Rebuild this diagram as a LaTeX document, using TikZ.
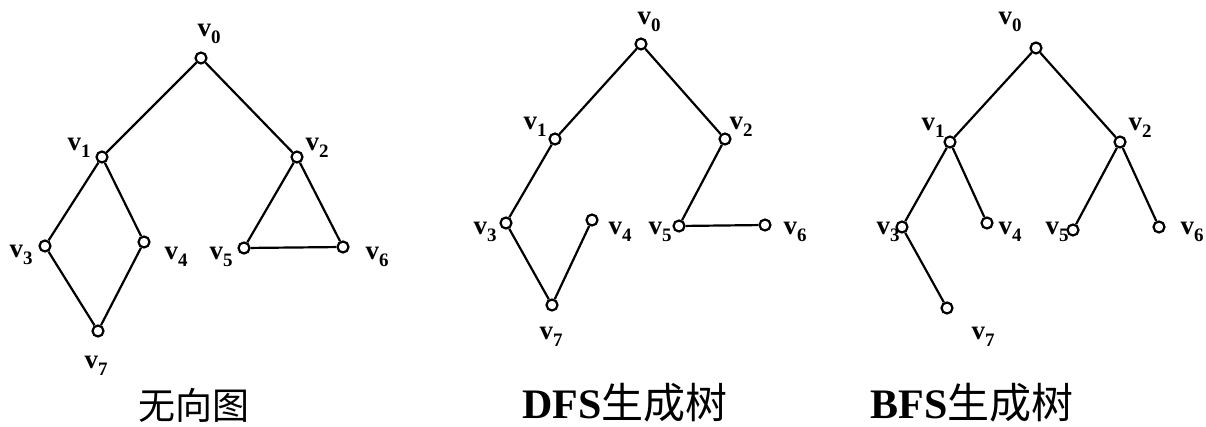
\documentclass[tikz,border=0pt]{standalone}
\usepackage{fontspec}
\setmainfont{Liberation Serif}
\newfontfamily\cjk{Noto Sans CJK SC}
\usetikzlibrary{positioning}
\newcommand{\vname}[1]{v\raisebox{-7pt}{\fontsize{19}{19}\selectfont #1}}

\begin{document}
\begin{tikzpicture}[
    x=1pt, y=-1pt,
    vtx/.style={draw=black, circle, line width=2.2pt, inner sep=0pt, minimum size=11pt, fill=white},
    lbl/.style={font=\fontsize{27}{27}\selectfont\bfseries, inner sep=0pt},
    captext/.style={font=\fontsize{42}{42}\selectfont, anchor=base, inner sep=0pt},
    edge/.style={line width=2.2pt, draw=black}
]
\useasboundingbox (0,0) rectangle (1206,427);

% undirected graph
\node[vtx] (a0) at (201,58) {};
\node[vtx] (a1) at (102,157) {};
\node[vtx] (a2) at (297,157) {};
\node[vtx] (a3) at (45,246) {};
\node[vtx] (a4) at (144,242) {};
\node[vtx] (a5) at (244,248) {};
\node[vtx] (a6) at (343,247) {};
\node[vtx] (a7) at (98,331) {};
\node[lbl] (la0) at (209,34) {\vname{0}};
\node[lbl] (la1) at (79,148) {\vname{1}};
\node[lbl] (la2) at (317,148) {\vname{2}};
\node[lbl] (la3) at (21,255) {\vname{3}};
\node[lbl] (la4) at (176,257) {\vname{4}};
\node[lbl] (la5) at (221,257) {\vname{5}};
\node[lbl] (la6) at (377,257) {\vname{6}};
\node[lbl] (la7) at (96,366) {\vname{7}};
\draw[edge] (a0) -- (a1);
\draw[edge] (a0) -- (a2);
\draw[edge] (a1) -- (a3);
\draw[edge] (a1) -- (a4);
\draw[edge] (a3) -- (a7);
\draw[edge] (a4) -- (a7);
\draw[edge] (a2) -- (a5);
\draw[edge] (a2) -- (a6);
\draw[edge] (a5) -- (a6);
\node[captext, font=\fontsize{37}{37}\selectfont] (capa) at (194,419) {{\cjk 无向图}};

% DFS tree
\node[vtx] (d0) at (641,44) {};
\node[vtx] (d1) at (555,139) {};
\node[vtx] (d2) at (725,139) {};
\node[vtx] (d3) at (506,223) {};
\node[vtx] (d4) at (592,220) {};
\node[vtx] (d5) at (679,226) {};
\node[vtx] (d6) at (765,225) {};
\node[vtx] (d7) at (552,305) {};
\node[lbl] (ld0) at (649,22) {\vname{0}};
\node[lbl] (ld1) at (535,127) {\vname{1}};
\node[lbl] (ld2) at (741,127) {\vname{2}};
\node[lbl] (ld3) at (485,232) {\vname{3}};
\node[lbl] (ld4) at (620,232) {\vname{4}};
\node[lbl] (ld5) at (660,232) {\vname{5}};
\node[lbl] (ld6) at (795,232) {\vname{6}};
\node[lbl] (ld7) at (551,337) {\vname{7}};
\draw[edge] (d0) -- (d1);
\draw[edge] (d1) -- (d3);
\draw[edge] (d3) -- (d7);
\draw[edge] (d7) -- (d4);
\draw[edge] (d0) -- (d2);
\draw[edge] (d2) -- (d5);
\draw[edge] (d5) -- (d6);
\node[captext] (capd) at (625,418) {\textbf{DFS}{\cjk 生成树}};

% BFS tree
\node[vtx] (b0) at (1036,48) {};
\node[vtx] (b1) at (950,142) {};
\node[vtx] (b2) at (1120,142) {};
\node[vtx] (b3) at (902,227) {};
\node[vtx] (b4) at (987,223) {};
\node[vtx] (b5) at (1073,230) {};
\node[vtx] (b6) at (1159,227) {};
\node[vtx] (b7) at (947,308) {};
\node[lbl] (lb0) at (1010,22) {\vname{0}};
\node[lbl] (lb1) at (933,128) {\vname{1}};
\node[lbl] (lb2) at (1140,128) {\vname{2}};
\node[lbl] (lb3) at (888,232) {\vname{3}};
\node[lbl] (lb4) at (1010,232) {\vname{4}};
\node[lbl] (lb5) at (1057,232) {\vname{5}};
\node[lbl] (lb6) at (1192,232) {\vname{6}};
\node[lbl] (lb7) at (983,337) {\vname{7}};
\draw[edge] (b0) -- (b1);
\draw[edge] (b0) -- (b2);
\draw[edge] (b1) -- (b3);
\draw[edge] (b1) -- (b4);
\draw[edge] (b2) -- (b5);
\draw[edge] (b2) -- (b6);
\draw[edge] (b3) -- (b7);
\node[captext] (capb) at (972,418) {\textbf{BFS}{\cjk 生成树}};

\end{tikzpicture}
\end{document}
